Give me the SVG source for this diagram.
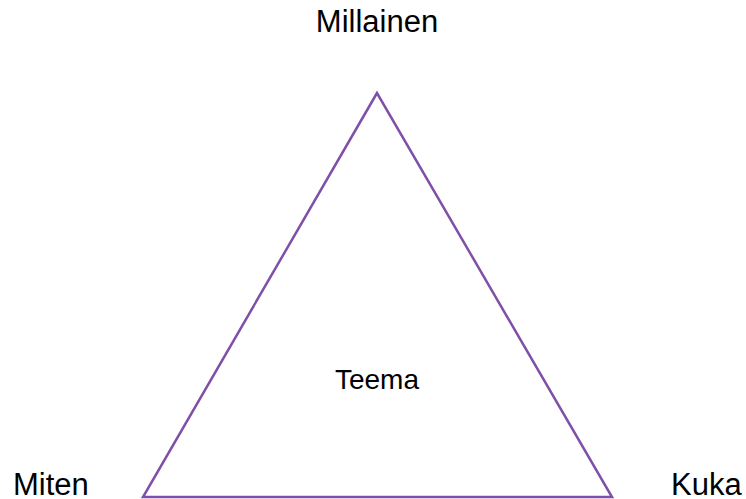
<svg xmlns="http://www.w3.org/2000/svg" width="746" height="499" viewBox="0 0 746 499">
<style>
text { font-family: "Liberation Sans", Arial, sans-serif; fill: #000; }
.lbl { font-size: 31px; }
.tri { fill: none; stroke: #8050A8; stroke-width: 2.5; stroke-linejoin: miter; }
</style>
<rect width="746" height="499" fill="#fff"/>
<g id="triangle">
<polygon class="tri" points="377,93 143,497 612,497"/>
</g>
<g id="teema"><text x="377" y="389" font-size="28" text-anchor="middle">Teema</text></g>
<g id="millainen"><text class="lbl" x="377" y="32" text-anchor="middle">Millainen</text></g>
<g id="miten"><text class="lbl" x="13" y="495">Miten</text></g>
<g id="kuka"><text class="lbl" x="671" y="495">Kuka</text></g>
<g id="connectors"></g>
</svg>
